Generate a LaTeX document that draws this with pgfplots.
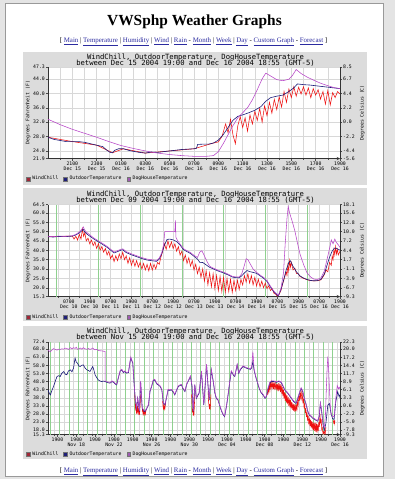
\documentclass[border=0pt]{standalone}
\usepackage{fontspec}
\setmainfont{Liberation Serif}
\setmonofont{DejaVu Sans Mono}
\usepackage{pgfplots}
\pgfplotsset{compat=1.18}

\definecolor{wc}{HTML}{EE1111}
\definecolor{ot}{HTML}{1A1A78}
\definecolor{dh}{HTML}{B845C8}
\definecolor{lwc}{HTML}{A02838}
\definecolor{lot}{HTML}{20207A}
\definecolor{ldh}{HTML}{A05AB4}
\definecolor{panel}{HTML}{DCDCDC}
\definecolor{gridc}{HTML}{D8D8D8}
\definecolor{gridg}{HTML}{8FD08F}
\definecolor{linkc}{HTML}{2B2BA0}
\definecolor{pageb}{HTML}{E4E4E4}

\newcommand\tickfont{\fontsize{4.8}{5.0}\selectfont\ttfamily}
\newcommand\ttlfont{\fontsize{7.2}{7}\selectfont\ttfamily}
\newcommand\lk[1]{\textcolor{linkc}{\underline{#1}}}

\pgfplotsset{
 rrdbase/.style={
   scale only axis, width=292pt, xmin=0,
   ticklabel style={font=\tickfont},
   tick align=outside,
   major tick length=2pt, minor tick length=1pt,
   tick style={draw=black!70, line width=0.4pt},
   axis line style={draw=black!80, line width=0.5pt},
 },
 rrdmain/.style={rrdbase,
   axis x line*=bottom, axis y line*=left,
   x axis line style={-stealth},
   y axis line style={-},
   axis background/.style={fill=white},
   ymajorgrids=true, xmajorgrids=false, xminorgrids=true,
   major grid style={draw=gridc, line width=0.4pt},
   minor grid style={draw=gridc, line width=0.4pt},
   xticklabel style={align=center, font=\tickfont, inner sep=1pt},
   yticklabel style={inner sep=1pt},
   ylabel style={font=\tickfont, at={(axis description cs:-0.068,0.5)}, anchor=center},
   ylabel={Degrees Fahrenheit (F)},
   legend style={at={(axis description cs:-0.075,-0.222)}, anchor=west, draw=none, fill=none,
     font=\tickfont, legend columns=-1, inner sep=0pt,
     /tikz/every even column/.append style={column sep=3pt}},
   legend image code/.code={\draw[##1, draw=black!55, line width=0.3pt] (0pt,-1.9pt) rectangle (3.8pt,1.9pt);},
   extra x tick style={grid=major, major grid style={draw=gridg, line width=0.5pt}, major tick length=0pt},
   extra x tick labels={},
   unbounded coords=jump,
 },
 rrdright/.style={rrdbase,
   axis x line=none, axis y line*=right,
   y axis line style={-},
   yticklabel style={inner sep=1pt},
   ylabel style={font=\tickfont, at={(axis description cs:1.076,0.5)}, anchor=center},
   ylabel={Degrees Celsius (C)},
 },
}

\begin{document}
\begin{tikzpicture}
\path[use as bounding box] (0pt,0pt) rectangle (395pt,-479pt);
\fill[pageb] (0pt,0pt) rectangle (395pt,-479pt);
\fill[white] (5pt,-3.5pt) rectangle (383pt,-476pt);
\draw[black!40, line width=0.6pt] (5pt,-3.5pt) rectangle (383pt,-476pt);

\fill[panel] (23pt,-52pt) rectangle (367pt,-185pt);
\fill[panel] (23pt,-188pt) rectangle (367pt,-321pt);
\fill[panel] (23pt,-326pt) rectangle (367pt,-459pt);

\node[anchor=base, inner sep=0pt, font=\fontsize{15.4}{17}\selectfont\bfseries] at (194.5pt,-25pt) {VWSphp Weather Graphs};
\node[anchor=base, inner sep=0pt, font=\fontsize{6.9}{8}\selectfont] at (193.5pt,-42.5pt) {[ \lk{Main} | \lk{Temperature} | \lk{Humidity} | \lk{Wind} | \lk{Rain} - \lk{Month} | \lk{Week} | \lk{Day} - \lk{Custom Graph} - \lk{Forecast} ]};
\node[anchor=base, inner sep=0pt, font=\fontsize{6.9}{8}\selectfont] at (193.5pt,-472.5pt) {[ \lk{Main} | \lk{Temperature} | \lk{Humidity} | \lk{Wind} | \lk{Rain} - \lk{Month} | \lk{Week} | \lk{Day} - \lk{Custom Graph} - \lk{Forecast} ]};

% ---------- chart 1 ----------
\node[anchor=base, inner sep=0pt, font=\ttlfont] at (195.5pt,-59.3pt) {WindChill, OutdoorTemperature, DogHouseTemperature};
\node[anchor=base, inner sep=0pt, font=\ttlfont] at (195.5pt,-65.3pt) {between Dec 15 2004 19:00 and Dec 16 2004 18:55 (GMT-5)};
\begin{axis}[rrdmain, at={(48pt,-158.5pt)}, anchor=south west, height=91.5pt,
  xmax=24, ymin=21.9, ymax=47.3,
  xtick={2,4,...,24},
  xticklabels={{2100\\Dec 15},{2300\\Dec 15},{0100\\Dec 16},{0300\\Dec 16},{0500\\Dec 16},{0700\\Dec 16},{0900\\Dec 16},{1100\\Dec 16},{1300\\Dec 16},{1500\\Dec 16},{1700\\Dec 16},{1900\\Dec 16}},
  minor xtick={1,2,...,23},
  ytick={21.9,24,28,32,36,40,44,47.3},
  yticklabels={21.9,24.0,28.0,32.0,36.0,40.0,44.0,47.3}]
\addlegendimage{fill=lwc}\addlegendentry{WindChill}
\addlegendimage{fill=lot}\addlegendentry{OutdoorTemperature}
\addlegendimage{fill=ldh}\addlegendentry{DogHouseTemperature}
\addplot[forget plot, wc, line width=0.55pt] coordinates {
(0,27.8)(2,26.6)(4,25.6)(5.3,23.5)(6.2,24.6)(8,23.4)(10,24.0)(12,24.6)(13.6,26.2)
(14,26.5)(14.3,28)(14.6,31.5)(14.8,29)(15.0,32.8)(15.2,28.5)(15.4,26.0)(15.6,31)(15.8,33.5)
(16.0,30.5)(16.2,33.2)(16.4,29.5)(16.6,34)(16.8,31.5)(17.0,35)(17.2,32.5)(17.4,35.8)(17.6,32.0)
(17.8,36.5)(18.0,33.8)(18.2,37.5)(18.4,34.5)(18.6,38.3)(18.8,35.5)(19.0,39)(19.2,36.2)(19.4,40.5)
(19.6,37.5)(19.8,41.2)(20.0,38.8)(20.2,41.8)(20.4,39.2)(20.6,41.7)(20.8,39.8)(21.0,41.8)(21.2,39.5)
(21.4,41.5)(21.6,38.8)(21.8,41.3)(22.0,39.5)(22.2,41.0)(22.4,38.4)(22.6,40.5)(22.8,37.0)(23.0,40.8)
(23.2,36.8)(23.4,40.2)(23.6,38.8)(23.8,40.5)(24,39.8)};
\addplot[forget plot, ot, line width=0.6pt] coordinates {
(0,27.8)(0.5,27.2)(1,26.9)(1.5,26.6)(2,26.6)(2.5,26.6)(3,26.4)(3.5,26.0)(4,25.6)(4.5,25.2)(4.8,24.3)
(5.1,23.6)(5.3,23.5)(5.5,24.2)(5.8,24.6)(6.2,24.6)(6.6,24.2)(7,23.9)(7.5,23.6)(8,23.4)(8.5,23.7)(9,23.6)
(9.5,23.8)(10,24.0)(10.5,24.2)(11,24.4)(11.5,24.5)(12,24.6)(12.2,24.7)(12.3,25.8)(12.8,25.9)(13.2,25.9)
(13.6,26.2)(14,27.0)(14.4,28.5)(14.8,30.5)(15.2,32.5)(15.6,33.6)(16,34.0)(16.5,34.6)(17,35.3)(17.5,36.3)
(17.9,37.8)(18.3,38.8)(18.8,39.2)(19.3,39.5)(19.8,40.5)(20.2,41.5)(20.5,42.6)(21,42.4)(21.5,42.3)
(22,42.1)(22.5,41.9)(23,41.7)(23.5,41.5)(24,41.3)};
\addplot[forget plot, dh, line width=0.55pt] coordinates {
(0,32.8)(1,31.3)(2,30.0)(3,28.9)(4,27.8)(5,26.6)(6,25.5)(7,24.7)(8,24.0)(9,23.4)(10,23.0)(11,22.7)
(12,22.5)(13,22.5)(13.6,22.7)(14,23.8)(14.4,26)(14.8,28.5)(15.2,31)(15.6,33.2)(16,34.6)(16.4,36)
(16.8,38.2)(17.2,41.0)(17.6,44)(17.9,45.6)(18.3,44.8)(18.8,43.8)(19.3,43.5)(19.8,43.9)(20.1,45)
(20.4,46.6)(20.8,45.5)(21.3,44.5)(21.8,43.7)(22.4,42.8)(23,42.1)(23.5,41.6)(24,41.3)};
\end{axis}
\begin{axis}[rrdright, at={(48pt,-158.5pt)}, anchor=south west, height=91.5pt,
  xmax=24, ymin=21.9, ymax=47.3,
  ytick={21.9,24,28,32,36,40,44,47.3},
  yticklabels={-5.6,-4.4,-2.2,0.0,2.2,4.4,6.7,8.5}]
\end{axis}

% ---------- chart 2 ----------
\node[anchor=base, inner sep=0pt, font=\ttlfont] at (195.5pt,-196pt) {WindChill, OutdoorTemperature, DogHouseTemperature};
\node[anchor=base, inner sep=0pt, font=\ttlfont] at (195.5pt,-202pt) {between Dec 09 2004 19:00 and Dec 16 2004 18:55 (GMT-5)};
\begin{axis}[rrdmain, at={(48pt,-296.5pt)}, anchor=south west, height=92pt,
  xmax=168, ymin=15.3, ymax=64.5,
  legend style={at={(axis description cs:-0.075,-0.223)}},
  xtick={12,24,...,168},
  xticklabels={{0700\\Dec 10},{1900\\Dec 10},{0700\\Dec 11},{1900\\Dec 11},{0700\\Dec 12},{1900\\Dec 12},{0700\\Dec 13},{1900\\Dec 13},{0700\\Dec 14},{1900\\Dec 14},{0700\\Dec 15},{1900\\Dec 15},{0700\\Dec 16},{1900\\Dec 16}},
  minor xtick={6,12,...,162},
  extra x ticks={5,29,53,77,101,125,149},
  ytick={15.3,20,25,30,35,40,45,50,55,60,64.5},
  yticklabels={15.3,20.0,25.0,30.0,35.0,40.0,45.0,50.0,55.0,60.0,64.5}]
\addlegendimage{fill=lwc}\addlegendentry{WindChill}
\addlegendimage{fill=lot}\addlegendentry{OutdoorTemperature}
\addlegendimage{fill=ldh}\addlegendentry{DogHouseTemperature}
\addplot[forget plot, wc, line width=0.55pt] coordinates {
(0,47.3)(14,47.6)(15,46.0)(16,47.5)(17,45.5)(18,48.5)(19,46.0)(19.8,51.5)(20.5,47.5)(21.2,49.5)
(22,45.0)(23,46.5)(24,43.5)(25,45.5)(26,42.5)(27,44.5)(28,41.0)(29,43.5)(30,40.0)(31,42.0)(32,39.0)
(33,41.0)(34,37.5)(35,39.5)(36,35.5)(37,37.5)(38,34.0)(39,37.0)(40,34.5)(41,38.0)(42,35.5)(43,39.0)
(44,35.0)(45,37.0)(46,33.0)(47,36.0)(48,32.0)(49,35.0)(50,31.5)(51,34.5)(52,31.0)(53,33.5)(54,30.0)
(55,33.0)(56,29.5)(57,32.5)(58,29.0)(59,33.0)(60,29.5)(61,32.5)(62,30.0)(63,33.5)(64,32.5)(65,36.5)
(66,39.5)(67,43.5)(68,40.5)(69,45.0)(70,41.5)(71,44.5)(72,41.0)(73,43.5)(74,39.5)(75,42.0)(76,37.5)
(77,39.5)(78,34.5)(79,37.5)(80,33.0)(81,36.0)(82,31.5)(83,34.5)(84,29.5)(85,32.5)(86,27.5)(87,31.0)
(88,25.5)(89,30.0)(90,23.5)(91,29.0)(92,21.5)(93,28.0)(94,20.5)(95,27.5)(96,19.5)(97,26.5)(98,18.5)
(99,26.0)(100,18.0)(101,25.5)(102,17.5)(103,25.0)(104,18.0)(105,24.5)(106,17.5)(107,24.0)(108,18.5)
(109,24.0)(110,19.0)(111,24.5)(112,21.5)(113,26.5)(114,23.0)(115,27.5)(116,22.5)(117,26.5)(118,21.5)
(119,25.5)(120,21.0)(121,24.5)(122,20.5)(123,23.5)(124,20.0)(125,22.5)(126,19.5)(127,21.0)(128,18.5)
(129,19.5)(130,17.0)(131,16.5)(132,15.5)(133,16.5)(134,18.5)(135,22.0)(136,25.0)(137,28.5)(137.5,26.5)
(138,32.0)(138.5,29.0)(139,34.5)(139.5,31.0)(140,33.5)(141,29.5)(142,30.5)(143,27.5)(144,27.5)(145,26.0)
(147,25.0)(149,24.3)(151,23.8)(153,23.6)(155,23.7)(157,24.2)(158,25.5)(159,27.0)(160,29.5)(161,28.5)
(162,33.5)(163,32.0)(163.5,37.0)(164,35.0)(164.5,40.5)(165,37.5)(165.5,42.0)(166,38.0)(166.5,40.5)
(167,37.5)(168,39.5)};
\addplot[forget plot, ot, line width=0.6pt] coordinates {
(0,47.3)(3,47.1)(6,47.4)(10,47.3)(14,47.6)(16,48.2)(18,49.3)(19.5,50.5)(20.3,51.2)(21,50.0)(22,49.0)
(24,47.6)(26,46.3)(28,45.1)(30,44.0)(32,42.8)(34,41.6)(36,40.1)(38,38.6)(40,39.3)(42,40.1)(43,40.3)
(45,38.8)(48,37.6)(51,36.6)(54,35.6)(57,34.8)(60,34.4)(62.5,34.1)(64,35.3)(65.5,38.3)(67,42.8)
(68.5,45.8)(70,46.0)(72,45.6)(74,44.7)(76,42.8)(78,40.3)(80,39.3)(82,38.3)(84,36.8)(86,35.3)(87.5,33.4)
(89,33.5)(91,32.2)(93,30.9)(95,30.1)(98,28.9)(101,27.9)(104,26.7)(106,25.7)(108,25.4)(110,25.3)
(111.5,26.4)(113,27.9)(114.5,29.2)(116,28.6)(118,28.2)(120,27.7)(122,26.4)(124,25.1)(126,23.4)
(128,20.4)(130,17.7)(131.5,16.4)(132.5,15.6)(134,18.9)(135.5,23.9)(137,29.4)(138.5,33.4)(139.5,34.4)
(141,31.4)(143,28.4)(145,26.3)(147,25.2)(149,24.4)(151,23.9)(153,23.7)(155,23.8)(157,24.4)(159,27.4)
(160.5,31.9)(162,36.3)(163.5,39.6)(165,41.3)(166.5,40.8)(168,40.1)};
\addplot[forget plot, dh, line width=0.55pt] coordinates {
(0,47.5)(3,47.3)(6,47.6)(10,47.5)(14,47.8)(16,48.5)(18,49.8)(19.5,51.3)(20.3,52.5)(21,51.0)(22,49.8)
(24,48.3)(26,46.8)(28,45.6)(30,44.5)(32,43.3)(34,42.1)(36,40.6)(38,39.1)(40,39.8)(42,40.6)(43,40.8)
(45,39.3)(48,38.1)(51,37.1)(54,36.1)(57,35.3)(60,34.9)(62.5,34.6)(64,35.8)(65.5,38.8)(66.5,43.0)
(67.2,50.0)(73,50.0)(73.3,56.0)(73.6,47.0)(74.5,45.3)(76,43.3)(78,40.8)(80,39.8)(82,38.8)(84,37.3)
(86,36.2)(87.3,39.0)(88.5,39.8)(90,37.0)(91.5,34.0)(93,31.5)(95,30.5)(98,29.3)(101,28.3)(104,27.1)
(106,26.1)(108,25.8)(110,25.7)(111.5,27.5)(113,32.0)(114,35.5)(115,35.0)(116.5,32.5)(118,30.0)
(120,28.2)(122,26.8)(124,25.5)(126,23.8)(128,20.8)(130,18.1)(131.5,16.8)(132.5,15.9)(134,19.5)
(135.5,28.0)(136.5,44.0)(137.5,57.0)(138.2,63.5)(139,60.0)(140.5,55.5)(142,50.5)(143.5,44.0)
(145,38.0)(147,32.5)(149,28.0)(151,25.8)(153,24.6)(155,24.4)(157,25.2)(159,29.0)(160.5,35.0)
(162,41.0)(163,45.5)(164,43.5)(165,46.0)(166,44.0)(167,43.0)(168,41.5)};
\end{axis}
\begin{axis}[rrdright, at={(48pt,-296.5pt)}, anchor=south west, height=92pt,
  xmax=168, ymin=15.3, ymax=64.5,
  ytick={15.3,20,25,30,35,40,45,50,55,60,64.5},
  yticklabels={-9.3,-6.7,-3.9,-1.1,1.7,4.4,7.2,10.0,12.8,15.6,18.1}]
\end{axis}

% ---------- chart 3 ----------
\node[anchor=base, inner sep=0pt, font=\ttlfont] at (195.5pt,-333.5pt) {WindChill, OutdoorTemperature, DogHouseTemperature};
\node[anchor=base, inner sep=0pt, font=\ttlfont] at (195.5pt,-339.8pt) {between Nov 15 2004 19:00 and Dec 16 2004 18:55 (GMT-5)};
\begin{axis}[rrdmain, at={(48pt,-434.5pt)}, anchor=south west, height=92.5pt,
  xmax=744, ymin=15.3, ymax=72.4,
  legend style={at={(axis description cs:-0.075,-0.216)}},
  xtick={24,72,...,744},
  xticklabels={{1900},{1900\\Nov 18},{1900},{1900\\Nov 22},{1900},{1900\\Nov 26},{1900},{1900\\Nov 30},{1900},{1900\\Dec 04},{1900},{1900\\Dec 08},{1900},{1900\\Dec 12},{1900},{1900\\Dec 16}},
  minor xtick={17,41,...,737},
  extra x ticks={5,29,...,725},
  ytick={15.3,18,23,28,33,38,43,48,53,58,63,68,72.4},
  yticklabels={15.3,18.0,23.0,28.0,33.0,38.0,43.0,48.0,53.0,58.0,63.0,68.0,72.4}]
\addlegendimage{fill=lwc}\addlegendentry{WindChill}
\addlegendimage{fill=lot}\addlegendentry{OutdoorTemperature}
\addlegendimage{fill=ldh}\addlegendentry{DogHouseTemperature}
\addplot[forget plot, wc, line width=0.55pt] coordinates {
(221,40)(222,35)(223,31.5)(224,33)(225,29.5)(226,31)(227,28)(228,33)(229,29)(230,31.5)(231,28.5)
(232,30)(233,27.5)(234,30)(235,35)(236,40)(237,nan)
(240,29.5)(241,31)(242,28.5)(243,30)(244,28)(245,29.5)(246,28)(247,29)(248,27.8)(249,29.5)(250,30.5)(251,nan)
(292,36)(293,33)(294,31.5)(295,33)(296,31)(297,32.5)(298,31.5)(299,33.5)(300,35)(301,nan)
(366,40)(367,34)(368,29)(369,31)(370,27)(371,29.5)(372,28)(373,33)(374,40)(375,nan)
(408,42)(409,36)(410,33.5)(411,32)(412,34)(413,30.5)(414,33)(415,40)(416,nan)
(558,43.0)(559.5,40.5)(561,44.0)(562.5,41.5)(564,46.0)(565.5,43.0)(567,47.5)(568.5,44.0)(570,47.5)
(571.5,44.5)(573,47.0)(574.5,43.5)(576,47.5)(577.5,44.0)(579,47.0)(580.5,43.0)(582,46.5)(583.5,42.5)
(585,46.5)(586.5,42.0)(588,47.0)(589.5,42.5)(591,46.5)(592.5,41.5)(594,46.0)(595.5,40.5)(597,44.5)
(598.5,39.0)(600,43.0)(601.5,37.5)(603,41.5)(604.5,36.0)(606,40.5)(607.5,35.0)(609,39.5)(610.5,34.0)
(612,38.5)(613.5,33.0)(615,37.5)(616.5,32.0)(618,36.5)(619.5,31.5)(621,35.5)(622.5,30.5)(624,34.5)
(625.5,30.0)(627,34.0)(628.5,29.5)(630,33.5)(631.5,29.5)(633,33.5)(634.5,31.0)(636,36.0)(637.5,33.5)
(639,39.0)(640.5,36.0)(642,41.0)(643.5,38.0)(645,42.5)(646.5,37.5)(648,40.0)(649.5,34.5)(651,37.5)
(652.5,31.5)(654,34.5)(655.5,28.5)(657,31.5)(658.5,26.0)(660,29.0)(661.5,23.5)(663,27.0)(664.5,21.5)
(666,25.5)(667.5,20.5)(669,24.5)(670.5,19.5)(672,23.5)(673.5,18.5)(675,23.0)(676.5,18.0)(678,22.5)
(679.5,17.5)(681,22.5)(682.5,17.0)(684,22.0)(685.5,16.5)(687,21.5)(688.5,17.5)(690,23.0)(691.5,20.0)
(693,28.0)(694.5,22.0)(696,25.0)(697.5,18.5)(699,19.5)(700.5,16.0)(702,17.0)(703.5,15.5)(705,17.5)
(706.5,16.0)(708,20.0)(709,nan)
(727,24)(728,22.5)(729,23.5)(730,22)(731,24)};
\addplot[forget plot, ot, line width=0.6pt] coordinates {
(0,42.8)(3,41.0)(6,39.7)(10,42.5)(14,44.9)(19,48.5)(23,51.1)(27,51.6)(31,51.1)(35,53.0)(40,54.2)
(44,52.5)(48,52.2)(52,54.5)(57,55.2)(61,54.0)(65,56.3)(69,62.5)(72,60.0)(75,59.4)(79,57.5)(82,57.3)
(86,58.0)(90,58.3)(94,56.5)(99,55.2)(103,54.8)(107,54.2)(111,56.0)(114,57.3)(117,55.0)(120,52.1)
(124,50.5)(128,49.0)(133,48.3)(137,48.0)(141,48.3)(145.6,48.0)(150,47.5)(158,47.0)(163,48.0)
(167,47.5)(171,46.5)(175,45.9)(179,50.0)(184,54.5)(188,55.2)(192,53.5)(196,54.2)(200,53.2)(205,53.5)
(209,60)(211,62.5)(214,60.5)(216,59.4)(219,48)(222,37.6)(226,31.4)(228.5,37.6)(233,29.4)(236,48.0)
(240,31.4)(244,29.8)(247,29.4)(251,31)(256,33.5)(260,42)(264,44.9)(268,48.5)(272,49.0)(277,46.5)
(281,45.9)(286,44.9)(290,42.8)(294,34.5)(298,33.5)(302,38)(306,42.8)(310,42.5)(315,42.8)(319,41.5)
(323,39.7)(328,42.8)(332,44.9)(336,45.5)(340,45.9)(344,43.5)(349,41.8)(353,46)(357,48.0)(363,51.1)
(367,45)(370,29.4)(374,45.9)(378,37.6)(382,39.5)(385,40.7)(391,54.2)(397,33.5)(404,58.3)(408,44.5)
(411,36.6)(416,55.2)(421,48.0)(425,41.0)(429,37.5)(433,36.6)(437,33.5)(441,30.5)(445,28.0)(450,26.3)
(455,33)(459,40)(463,47.5)(467,54.2)(472,52.1)(476,51.1)(482,58.3)(486,53.0)(490,55.2)(497,57.3)
(505,56.3)(511,55.8)(516,55.5)(519,56.5)(522,60.5)(525,55.0)(529,51.1)(534,47.0)(538,43.8)(543,41.0)
(548,39.7)(553,37.6)(556,38.5)(560,42.8)(565,47.0)(569,48.0)(575,48.0)(582,47.5)(588,48.0)(594,47.5)
(598,45.5)(603,42.8)(607,41.8)(611,40.7)(616,39.0)(620,37.6)(626,35.6)(632,34.5)(637,38)(641,41.0)
(645,43.8)(649,41.8)(654,36.6)(658,33.5)(662,29.4)(666,27.3)(671,26.3)(675,25.2)(679,24.7)(683,24.0)
(687,23.5)(691,26.3)(694,34.5)(697,30)(701,21.1)(704,18.0)(708,22)(713,33.5)(717,34.5)(721,28.3)
(725,25.2)(729,24.5)(733,35)(738,41.8)(742,38.5)(744,40.0)};
\addplot[forget plot, dh, line width=0.55pt] coordinates {
(0,67.4)(3,66.8)(6,66.4)(10,67.4)(14,68.3)(19,67.8)(23,67.4)(27,68.0)(31,67.8)(35,68.2)(40,68.0)
(44,68.6)(48,68.4)(52,67.8)(57,68.9)(61,68.2)(65,68.9)(69,68.4)(72,69.1)(75,67.9)(79,68.2)(82,68.7)
(86,68.0)(90,68.9)(94,68.2)(99,67.9)(103,68.4)(107,67.8)(111,68.2)(114,68.7)(117,67.9)(120,67.6)
(124,67.9)(128,67.2)(133,67.0)(137,66.9)(141,66.7)(145.6,66.6)(145.7,48.3)
(150,47.9)(158,47.4)(163,48.4)(167,47.9)(171,46.9)(175,46.3)(179,50.4)(184,54.9)(188,55.6)(192,53.9)
(196,54.6)(200,53.6)(205,53.9)(209,60.4)(211,63.2)(214,60.9)(216,59.8)(219,48.4)(222,38.0)(226,31.8)
(228.5,38.0)(233,29.8)(236,48.4)(240,31.8)(244,30.2)(247,29.8)(251,31.4)(256,33.9)(260,42.4)(264,45.3)
(268,48.9)(272,49.4)(277,46.9)(281,46.3)(286,45.3)(290,43.2)(294,34.9)(298,33.9)(302,38.4)(306,43.2)
(310,42.9)(315,43.2)(319,41.9)(323,40.1)(328,43.2)(332,45.3)(336,45.9)(340,46.3)(344,43.9)(349,42.2)
(353,46.4)(357,48.4)(363,51.5)(367,45.4)(370,29.8)(374,46.3)(378,38.0)(382,39.9)(385,41.1)(391,54.6)
(397,33.9)(404,58.7)(408,44.9)(411,37.0)(416,55.6)(421,48.4)(425,41.4)(429,37.9)(433,37.0)(437,33.9)
(441,30.9)(445,28.4)(450,26.7)(455,33.4)(459,40.4)(463,47.9)(467,54.6)(472,52.5)(476,51.5)(482,58.7)
(486,53.4)(490,55.6)(497,57.7)(505,56.7)(511,56.2)(516,55.9)(519,57.5)(522,66.5)(525,56.0)(529,51.5)
(534,47.4)(538,44.2)(543,41.4)(548,40.1)(553,38.0)(556,38.9)(560,43.2)(565,47.4)(569,48.4)(575,48.4)
(582,47.9)(588,48.4)(594,47.9)(598,45.9)(603,43.2)(607,42.2)(611,41.1)(616,39.4)(620,38.0)(626,36.0)
(632,34.9)(637,38.4)(641,41.4)(645,44.2)(649,42.2)(654,37.0)(658,33.9)(662,29.8)(666,27.7)(671,26.7)
(675,25.6)(679,25.1)(683,24.4)(687,23.9)(691,26.7)(694,34.9)(697,30.4)(701,21.5)(704,19.5)(707,28)
(709,42)(711,55)(713,63.5)(715,56)(717,44)(719,34)(721,29)(725,26)(729,26.5)(733,37)(737,45.5)
(740,43.5)(742,44.5)(744,43.5)};
\end{axis}
\begin{axis}[rrdright, at={(48pt,-434.5pt)}, anchor=south west, height=92.5pt,
  xmax=744, ymin=15.3, ymax=72.4,
  ytick={15.3,18,23,28,33,38,43,48,53,58,63,68,72.4},
  yticklabels={-9.3,-7.8,-5.0,-2.2,0.6,3.3,6.1,8.9,11.7,14.4,17.2,20.0,22.3}]
\end{axis}
\end{tikzpicture}
\end{document}
